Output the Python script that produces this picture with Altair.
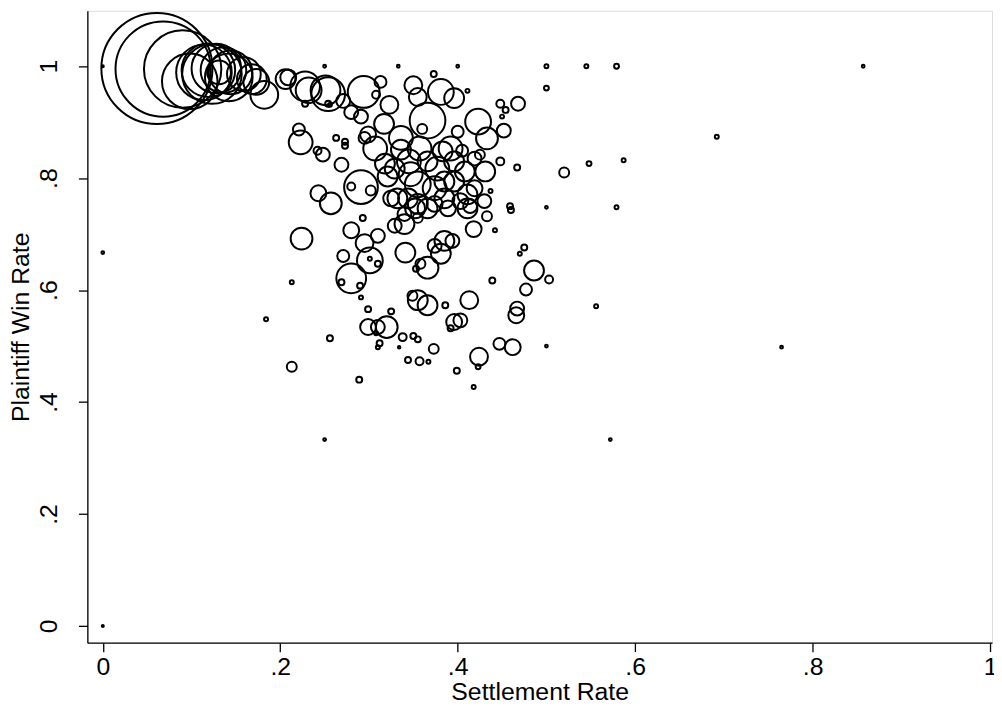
import altair as alt
import pandas as pd

# Settlement rate (x), plaintiff win rate (y), weight (bubble size, number of cases)
settlement = [
    0.061, 0.068, 0.090, 0.098, 0.114, 0.119, 0.123, 0.128, 0.136, 0.144,
    0.142, 0.159, 0.168, 0.173, 0.182, 0.206, 0.209, 0.228, 0.232, 0.251,
    0.254, 0.250, 0.228, 0.254, 0.131,
    0.333, 0.400, 0.373, 0.294, 0.313, 0.308, 0.350, 0.355, 0.381, 0.396,
    0.411, 0.271, 0.280, 0.291, 0.323, 0.366, 0.360, 0.400, 0.423, 0.433,
    0.448, 0.454, 0.468, 0.450, 0.452, 0.256, 0.221, 0.223, 0.263, 0.273,
    0.273, 0.299, 0.317, 0.295, 0.336, 0.307, 0.336, 0.357, 0.383, 0.392,
    0.405, 0.425, 0.242, 0.248, 0.269, 0.318, 0.345, 0.366, 0.377, 0.396,
    0.419, 0.431, 0.448, 0.467, 0.329, 0.347, 0.321, 0.291, 0.280, 0.302,
    0.355, 0.374, 0.385, 0.396, 0.408, 0.411, 0.419, 0.437, 0.430, 0.459,
    0.460, 0.332, 0.344, 0.355, 0.374, 0.385, 0.403, 0.414, 0.243, 0.257,
    0.325, 0.352, 0.366, 0.389, 0.411, 0.433, 0.340, 0.355, 0.442, 0.280,
    0.295, 0.310, 0.301, 0.293, 0.271, 0.280, 0.269, 0.290, 0.310, 0.301,
    0.291, 0.329, 0.340, 0.341, 0.366, 0.358, 0.353, 0.385, 0.381, 0.394,
    0.374, 0.418, 0.475, 0.470, 0.439, 0.477, 0.467, 0.466, 0.355, 0.349,
    0.366, 0.386, 0.413, 0.396, 0.403, 0.392, 0.299, 0.310, 0.320, 0.299,
    0.325, 0.338, 0.350, 0.355, 0.256, 0.312, 0.310, 0.308, 0.334, 0.373,
    0.344, 0.357, 0.367, 0.289, 0.399, 0.424, 0.423, 0.418, 0.447, 0.462,
    0.224,
    0.213, 0.184, 0.213, 0.250, 0.000, 0.000, 0.000,
    0.500, 0.545, 0.579, 0.857, 0.500, 0.692, 0.548, 0.587, 0.520, 0.500,
    0.579, 0.486, 0.503, 0.556, 0.500, 0.765, 0.572,
]
win_rate = [
    0.996, 0.995, 0.995, 0.973, 0.989, 0.993, 0.986, 0.996, 0.993, 0.989,
    0.980, 0.986, 0.977, 0.972, 0.949, 0.977, 0.980, 0.964, 0.957, 0.957,
    0.950, 1.000, 0.933, 0.933, 0.989,
    1.000, 1.000, 0.986, 0.954, 0.972, 0.949, 0.966, 0.945, 0.954, 0.943,
    0.956, 0.938, 0.918, 0.910, 0.931, 0.903, 0.888, 0.883, 0.901, 0.871,
    0.933, 0.922, 0.933, 0.910, 0.885, 0.931, 0.887, 0.864, 0.872, 0.865,
    0.858, 0.878, 0.897, 0.872, 0.872, 0.853, 0.851, 0.853, 0.848, 0.853,
    0.849, 0.842, 0.849, 0.842, 0.824, 0.826, 0.830, 0.830, 0.817, 0.830,
    0.835, 0.812, 0.830, 0.819, 0.817, 0.807, 0.803, 0.784, 0.785, 0.778,
    0.789, 0.782, 0.794, 0.794, 0.812, 0.771, 0.782, 0.777, 0.759, 0.750,
    0.743, 0.764, 0.764, 0.754, 0.754, 0.764, 0.759, 0.750, 0.773, 0.755,
    0.764, 0.746, 0.746, 0.746, 0.746, 0.732, 0.736, 0.729, 0.707, 0.707,
    0.684, 0.697, 0.653, 0.729, 0.661, 0.621, 0.614, 0.608, 0.647, 0.656,
    0.587, 0.715, 0.718, 0.667, 0.640, 0.647, 0.638, 0.688, 0.665, 0.688,
    0.679, 0.709, 0.676, 0.665, 0.617, 0.601, 0.567, 0.555, 0.582, 0.590,
    0.573, 0.573, 0.582, 0.543, 0.546, 0.532, 0.534, 0.534, 0.534, 0.566,
    0.562, 0.516, 0.518, 0.512, 0.514, 0.505, 0.498, 0.523, 0.498, 0.495,
    0.475, 0.473, 0.472, 0.440, 0.456, 0.481, 0.463, 0.427, 0.504, 0.498,
    0.692,
    0.614, 0.548, 0.463, 0.333, 0.667, 0.000, 1.000,
    1.000, 1.000, 1.000, 1.000, 0.961, 0.874, 0.826, 0.832, 0.810, 0.748,
    0.748, 0.635, 0.619, 0.571, 0.500, 0.498, 0.333,
]
weight = [
    3136, 2304, 1521, 784, 784, 729, 900, 625, 529, 484,
    576, 289, 225, 169, 196, 100, 64, 225, 169, 225,
    289, 2, 9, 9, 144,
    2, 2, 9, 256, 36, 16, 81, 81, 169, 100,
    4, 49, 49, 49, 81, 324, 25, 36, 169, 121,
    16, 9, 49, 4, 49, 4, 36, 144, 9, 9,
    9, 64, 100, 36, 144, 144, 100, 144, 100, 144,
    36, 25, 16, 49, 49, 100, 144, 100, 144, 100,
    49, 100, 16, 9, 100, 144, 100, 289, 16, 25,
    169, 144, 100, 100, 100, 100, 64, 4, 49, 9,
    9, 100, 100, 100, 64, 100, 64, 49, 64, 121,
    64, 100, 100, 64, 100, 25, 49, 25, 4, 64,
    81, 49, 169, 9, 36, 225, 9, 9, 9, 4,
    4, 49, 100, 100, 121, 25, 9, 100, 100, 49,
    49, 64, 9, 4, 9, 36, 49, 64, 100, 25,
    100, 9, 81, 64, 49, 9, 64, 49, 121, 9,
    9, 16, 9, 9, 9, 9, 4, 4, 1.5, 25,
    9, 16, 4, 9, 9, 81, 6, 4, 36, 64,
    121,
    4, 4, 25, 2, 2, 1, 1,
    4, 4, 6, 2, 6, 4, 6, 4, 25, 2,
    4, 100, 16, 4, 2, 2, 2,
]

x_ticks = [0, 0.2, 0.4, 0.6, 0.8, 1]
y_ticks = [0, 0.2, 0.4, 0.6, 0.8, 1]

n = min(len(settlement), len(win_rate), len(weight))
df = pd.DataFrame({
    "settlement": settlement[:n],
    "win": win_rate[:n],
    "w": weight[:n],
})

label_expr = ("datum.value == 0 ? '0' : datum.value == 1 ? '1' : "
              "replace(format(datum.value, '.1f'), '0.', '.')")

FONT = "Liberation Sans"
FS = 25

common = dict(grid=False, tickSize=9, labelFontSize=FS, titleFontSize=FS,
              labelFont=FONT, titleFont=FONT, titleFontWeight="normal",
              labelColor="black", titleColor="black", domainColor="black",
              tickColor="black", domainWidth=1.3, tickWidth=1.3, labelFlush=False)

chart = alt.Chart(df).mark_point(
    shape="circle", filled=False, color="black", strokeWidth=2, opacity=1
).encode(
    x=alt.X("settlement:Q",
            scale=alt.Scale(domain=[-0.0174, 1.0022], nice=False, zero=False),
            axis=alt.Axis(values=x_ticks, labelExpr=label_expr, title="Settlement Rate",
                          labelPadding=3, titlePadding=0, **common)),
    y=alt.Y("win:Q",
            scale=alt.Scale(domain=[-0.030, 1.099], nice=False, zero=False),
            axis=alt.Axis(values=y_ticks, labelExpr=label_expr, title="Plaintiff Win Rate",
                          labelAngle=270, labelAlign="center", labelBaseline="bottom",
                          labelPadding=17, titlePadding=3, **common)),
    size=alt.Size("w:Q", scale=alt.Scale(type="linear", domain=[0, 3136], range=[0, 12544]),
                  legend=None),
).properties(
    width=912, height=637,
    autosize=alt.AutoSizeParams(type="none"),
    padding={"left": 80, "top": 0, "right": 2, "bottom": 66},
).configure_view(stroke=None).configure(background="white")

chart.save("out.html", embed_options={"renderer": "svg", "actions": False})
